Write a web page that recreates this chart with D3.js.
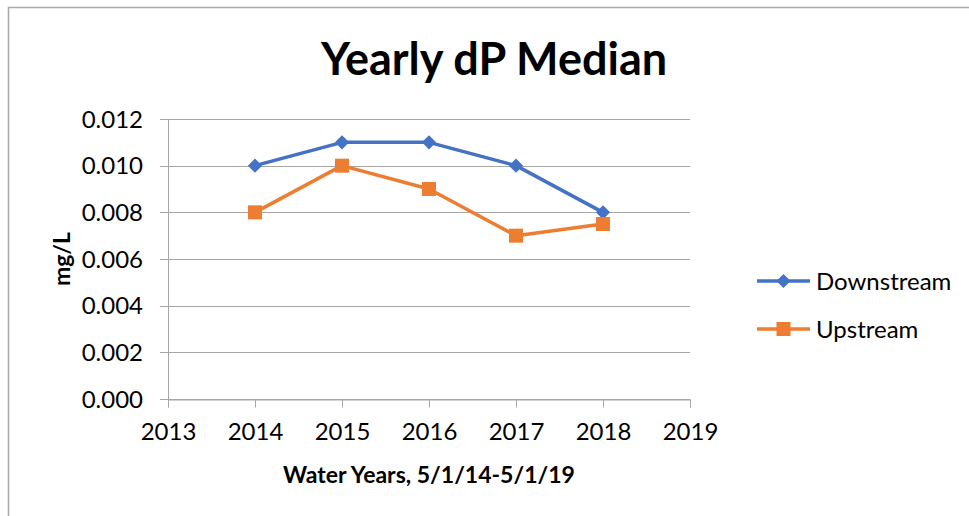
<!DOCTYPE html>
<html>
<head>
<meta charset="utf-8">
<script src="https://cdn.jsdelivr.net/npm/d3@7"></script>
<style>
  body { margin: 0; background: #fff; }
  text { font-family: Lato, "Open Sans", sans-serif; fill: #000; }
</style>
</head>
<body>
<div id="chart"></div>
<script>
// data
var years = [2014, 2015, 2016, 2017, 2018];
var downstream = [0.010, 0.011, 0.011, 0.010, 0.008];
var upstream = [0.008, 0.010, 0.009, 0.007, 0.0075];
var yTicks = [0, 0.002, 0.004, 0.006, 0.008, 0.010, 0.012];
var xTicks = [2013, 2014, 2015, 2016, 2017, 2018, 2019];

var margin = {top: 119, right: 279, bottom: 117, left: 168},
    width = 969 - margin.left - margin.right,
    height = 516 - margin.top - margin.bottom;

var root = d3.select("#chart")
  .append("svg")
    .attr("width", 969)
    .attr("height", 516);

// outer frame (only left and top edges visible)
root.append("path")
  .attr("d", "M8.5,516 V7.5 H969")
  .attr("fill", "none")
  .attr("stroke", "#aaaaaa")
  .attr("stroke-width", 1.5);

var svg = root.append("g")
  .attr("transform", "translate(" + margin.left + "," + margin.top + ")");

var x = d3.scaleLinear().domain([2013, 2019]).range([0, width]);
var y = d3.scaleLinear().domain([0, 0.012]).range([height, 0]);

// gridlines
svg.append("g")
  .selectAll("line")
  .data(yTicks)
  .enter()
  .append("line")
    .attr("x1", -8)
    .attr("x2", width)
    .attr("y1", function(d) { return Math.round(y(d)) + 0.5; })
    .attr("y2", function(d) { return Math.round(y(d)) + 0.5; })
    .attr("stroke", "#a6a6a6")
    .attr("stroke-width", 1);

// y axis line
svg.append("line")
  .attr("x1", 0.5).attr("x2", 0.5)
  .attr("y1", 0).attr("y2", height)
  .attr("stroke", "#a6a6a6");

// x axis
var xAxis = d3.axisBottom(x)
  .tickValues(xTicks)
  .tickFormat(d3.format("d"))
  .tickSize(8)
  .tickPadding(15);
var gx = svg.append("g")
  .attr("transform", "translate(0," + (Math.round(height) + 0.5) + ")")
  .call(xAxis);
gx.select(".domain").attr("stroke", "#a6a6a6");
gx.selectAll(".tick line").attr("stroke", "#a6a6a6");
gx.selectAll(".tick text")
  .style("font-size", "24px")
  .style("font-family", "Lato, sans-serif")
  .attr("fill", "#000");

// y tick labels
svg.append("g")
  .selectAll("text")
  .data(yTicks)
  .enter()
  .append("text")
    .attr("x", -25)
    .attr("y", function(d) { return y(d); })
    .attr("dy", "0.36em")
    .attr("text-anchor", "end")
    .style("font-size", "24px")
    .text(function(d) { return d3.format(".3f")(d); });

// markers: diamond is a rotated square
function marker(s) {
  return d3.symbol().type(d3.symbolSquare).size(s.diamond ? 100 : 196)();
}

var line = d3.line()
  .x(function(d, i) { return x(years[i]); })
  .y(function(d) { return y(d); });

var series = [
  {name: "Downstream", values: downstream, color: "#4472c4", diamond: true},
  {name: "Upstream", values: upstream, color: "#ed7d31", diamond: false}
];

series.forEach(function(s) {
  svg.append("path")
    .datum(s.values)
    .attr("fill", "none")
    .attr("stroke", s.color)
    .attr("stroke-width", 3.5)
    .attr("stroke-linejoin", "round")
    .attr("d", line);

  svg.append("g")
    .selectAll("path")
    .data(s.values)
    .enter()
    .append("path")
      .attr("transform", function(d, i) {
        return "translate(" + x(years[i]) + "," + y(d) + ")" + (s.diamond ? " rotate(45)" : "");
      })
      .attr("d", marker(s))
      .attr("fill", s.color);
});

// legend
var legend = root.append("g");
series.forEach(function(s, i) {
  var ly = 281 + i * 48;
  legend.append("line")
    .attr("x1", 757).attr("x2", 810)
    .attr("y1", ly).attr("y2", ly)
    .attr("stroke", s.color)
    .attr("stroke-width", 3.5);
  legend.append("path")
    .attr("transform", "translate(783.5," + ly + ")" + (s.diamond ? " rotate(45)" : ""))
    .attr("d", marker(s))
    .attr("fill", s.color);
  legend.append("text")
    .attr("x", 816)
    .attr("y", ly)
    .attr("dy", "0.36em")
    .style("font-size", "24px")
    .text(s.name);
});

// chart title
root.append("text")
  .attr("x", 494)
  .attr("y", 75)
  .attr("text-anchor", "middle")
  .style("font-size", "45px")
  .style("font-weight", "bold")
  .text("Yearly dP Median");

// axis titles
root.append("text")
  .attr("transform", "rotate(-90)")
  .attr("x", -259)
  .attr("y", 70)
  .attr("text-anchor", "middle")
  .style("font-size", "23px")
  .style("font-weight", "bold")
  .text("mg/L");

root.append("text")
  .attr("x", 429)
  .attr("y", 483)
  .attr("text-anchor", "middle")
  .style("font-size", "23px")
  .style("font-weight", "bold")
  .text("Water Years, 5/1/14-5/1/19");
</script>
</body>
</html>
